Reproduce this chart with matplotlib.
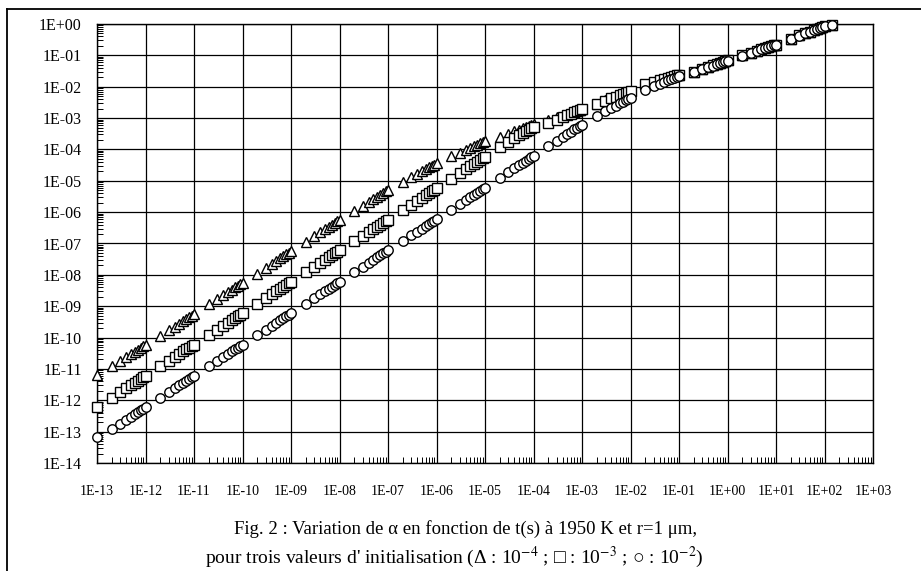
import matplotlib
matplotlib.use('Agg')
import matplotlib.pyplot as plt
from matplotlib.lines import Line2D
from matplotlib.ticker import LogLocator, NullFormatter

plt.rcParams['font.family'] = ['Liberation Serif', 'DejaVu Serif', 'DejaVu Sans']
plt.rcParams['mathtext.fontset'] = 'stix'

# temps : un premier point a 1E-13 puis k*10^n (k = 2..10) pour chaque decade
decades = [-13, -12, -11, -10, -9, -8, -7, -6, -5, -4, -3, -2, -1, 0, 1]
mult = [2, 3, 4, 5, 6, 7, 8, 9, 10]
t_first = 1e-13
t_last = 1.45e2

# alpha, initialisation 1E-4 (triangles)
tri_first = 6.4e-12
tri = [
    [1.2e-11, 1.8e-11, 2.4e-11, 2.9e-11, 3.5e-11, 4.1e-11, 4.7e-11, 5.3e-11, 5.8e-11],
    [1.1e-10, 1.7e-10, 2.2e-10, 2.8e-10, 3.3e-10, 3.9e-10, 4.4e-10, 5.0e-10, 5.5e-10],
    [1.15e-9, 1.7e-9, 2.3e-9, 2.85e-9, 3.4e-9, 4.0e-9, 4.5e-9, 5.1e-9, 5.6e-9],
    [1.1e-8, 1.7e-8, 2.3e-8, 2.8e-8, 3.4e-8, 4.0e-8, 4.5e-8, 5.1e-8, 5.7e-8],
    [1.1e-7, 1.7e-7, 2.3e-7, 2.9e-7, 3.4e-7, 4.0e-7, 4.6e-7, 5.2e-7, 5.8e-7],
    [1.1e-6, 1.62e-6, 2.13e-6, 2.64e-6, 3.15e-6, 3.65e-6, 4.15e-6, 4.6e-6, 5.1e-6],
    [9.2e-6, 1.3e-5, 1.66e-5, 2.0e-5, 2.33e-5, 2.66e-5, 2.98e-5, 3.3e-5, 3.6e-5],
    [6.0e-5, 7.9e-5, 9.6e-5, 1.12e-4, 1.27e-4, 1.41e-4, 1.55e-4, 1.67e-4, 1.8e-4],
    [2.5e-4, 3.2e-4, 3.8e-4, 4.3e-4, 4.8e-4, 5.3e-4, 5.7e-4, 6.1e-4, 6.5e-4],
    [9.0e-4, 1.09e-3, 1.24e-3, 1.38e-3, 1.5e-3, 1.61e-3, 1.71e-3, 1.81e-3, 1.9e-3],
    [2.9e-3, 3.7e-3, 4.4e-3, 5.0e-3, 5.6e-3, 6.1e-3, 6.6e-3, 7.1e-3, 7.5e-3],
    [1.2e-2, 1.43e-2, 1.62e-2, 1.78e-2, 1.93e-2, 2.06e-2, 2.18e-2, 2.29e-2, 2.4e-2],
    [3.0e-2, 3.7e-2, 4.3e-2, 4.8e-2, 5.3e-2, 5.7e-2, 6.15e-2, 6.5e-2, 6.9e-2],
    [0.10, 0.122, 0.140, 0.157, 0.171, 0.185, 0.197, 0.209, 0.22],
    [0.34, 0.43, 0.505, 0.573, 0.635, 0.694, 0.749, 0.80, 0.85],
]
tri_last = 0.93

# alpha, initialisation 1E-3 (carres)
sq_first = 6.3e-13
sq = [
    [1.2e-12, 1.8e-12, 2.4e-12, 3.0e-12, 3.6e-12, 4.2e-12, 4.8e-12, 5.4e-12, 6.0e-12],
    [1.2e-11, 1.8e-11, 2.4e-11, 3.0e-11, 3.6e-11, 4.2e-11, 4.8e-11, 5.4e-11, 6.0e-11],
    [1.2e-10, 1.8e-10, 2.4e-10, 3.0e-10, 3.6e-10, 4.2e-10, 4.8e-10, 5.4e-10, 6.0e-10],
    [1.2e-9, 1.8e-9, 2.4e-9, 3.0e-9, 3.6e-9, 4.2e-9, 4.8e-9, 5.4e-9, 6.0e-9],
    [1.2e-8, 1.8e-8, 2.4e-8, 3.0e-8, 3.6e-8, 4.2e-8, 4.8e-8, 5.4e-8, 6.1e-8],
    [1.2e-7, 1.75e-7, 2.35e-7, 2.9e-7, 3.45e-7, 4.0e-7, 4.5e-7, 5.1e-7, 5.7e-7],
    [1.17e-6, 1.75e-6, 2.33e-6, 2.9e-6, 3.5e-6, 4.1e-6, 4.65e-6, 5.2e-6, 5.8e-6],
    [1.15e-5, 1.73e-5, 2.3e-5, 2.88e-5, 3.45e-5, 4.0e-5, 4.6e-5, 5.15e-5, 5.8e-5],
    [1.2e-4, 1.74e-4, 2.28e-4, 2.8e-4, 3.3e-4, 3.8e-4, 4.3e-4, 4.8e-4, 5.3e-4],
    [6.9e-4, 8.9e-4, 1.07e-3, 1.23e-3, 1.38e-3, 1.52e-3, 1.65e-3, 1.78e-3, 1.9e-3],
    [2.8e-3, 3.56e-3, 4.23e-3, 4.83e-3, 5.38e-3, 5.9e-3, 6.38e-3, 6.85e-3, 7.3e-3],
    [1.2e-2, 1.43e-2, 1.62e-2, 1.78e-2, 1.93e-2, 2.06e-2, 2.18e-2, 2.29e-2, 2.4e-2],
    [3.0e-2, 3.7e-2, 4.3e-2, 4.8e-2, 5.3e-2, 5.7e-2, 6.15e-2, 6.5e-2, 6.9e-2],
    [0.10, 0.122, 0.140, 0.157, 0.171, 0.185, 0.197, 0.209, 0.22],
    [0.34, 0.43, 0.505, 0.573, 0.635, 0.694, 0.749, 0.80, 0.85],
]
sq_last = 0.93

# alpha, initialisation 1E-2 (cercles)
circ_first = 6.6e-14
circ = [
    [1.2e-13, 1.8e-13, 2.4e-13, 3.0e-13, 3.6e-13, 4.2e-13, 4.8e-13, 5.4e-13, 6.0e-13],
    [1.2e-12, 1.8e-12, 2.4e-12, 3.0e-12, 3.6e-12, 4.2e-12, 4.8e-12, 5.4e-12, 6.0e-12],
    [1.2e-11, 1.8e-11, 2.4e-11, 3.0e-11, 3.6e-11, 4.2e-11, 4.8e-11, 5.4e-11, 6.0e-11],
    [1.2e-10, 1.8e-10, 2.4e-10, 3.0e-10, 3.6e-10, 4.2e-10, 4.8e-10, 5.4e-10, 6.0e-10],
    [1.2e-9, 1.8e-9, 2.4e-9, 3.0e-9, 3.6e-9, 4.2e-9, 4.8e-9, 5.4e-9, 6.1e-9],
    [1.2e-8, 1.8e-8, 2.4e-8, 3.0e-8, 3.6e-8, 4.2e-8, 4.8e-8, 5.4e-8, 6.1e-8],
    [1.2e-7, 1.8e-7, 2.4e-7, 3.0e-7, 3.6e-7, 4.2e-7, 4.8e-7, 5.4e-7, 6.0e-7],
    [1.2e-6, 1.8e-6, 2.4e-6, 3.0e-6, 3.6e-6, 4.2e-6, 4.8e-6, 5.4e-6, 6.0e-6],
    [1.25e-5, 1.85e-5, 2.5e-5, 3.1e-5, 3.75e-5, 4.4e-5, 5.0e-5, 5.7e-5, 6.3e-5],
    [1.24e-4, 1.86e-4, 2.48e-4, 3.1e-4, 3.72e-4, 4.34e-4, 4.96e-4, 5.58e-4, 6.2e-4],
    [1.15e-3, 1.63e-3, 2.08e-3, 2.51e-3, 2.93e-3, 3.33e-3, 3.73e-3, 4.12e-3, 4.5e-3],
    [7.9e-3, 1.02e-2, 1.23e-2, 1.42e-2, 1.59e-2, 1.75e-2, 1.91e-2, 2.06e-2, 2.2e-2],
    [2.9e-2, 3.6e-2, 4.2e-2, 4.7e-2, 5.2e-2, 5.6e-2, 6.0e-2, 6.4e-2, 6.8e-2],
    [0.098, 0.12, 0.138, 0.155, 0.169, 0.183, 0.195, 0.207, 0.218],
    [0.335, 0.425, 0.50, 0.57, 0.63, 0.69, 0.745, 0.795, 0.845],
]
circ_last = 0.93

x_labels = ['1E-13', '1E-12', '1E-11', '1E-10', '1E-09', '1E-08', '1E-07', '1E-06',
            '1E-05', '1E-04', '1E-03', '1E-02', '1E-01', '1E+00', '1E+01', '1E+02', '1E+03']
y_labels = ['1E-14', '1E-13', '1E-12', '1E-11', '1E-10', '1E-09', '1E-08', '1E-07',
            '1E-06', '1E-05', '1E-04', '1E-03', '1E-02', '1E-01', '1E+00']


def serie(first, rows, last):
    t = [t_first]
    a = [first]
    for n, row in zip(decades, rows):
        for k, v in zip(mult, row):
            t.append(k * 10.0 ** n)
            a.append(v)
    t.append(t_last)
    a.append(last)
    return t, a


fig = plt.figure(figsize=(9.21, 5.71), dpi=100)
ax = fig.add_axes([97 / 921, 1 - 463 / 571, 776 / 921, 439 / 571])
ax.set_xscale('log')
ax.set_yscale('log')
ax.set_xlim(1e-13, 1e3)
ax.set_ylim(1e-14, 1)

ax.set_xticks([10.0 ** e for e in range(-13, 4)])
ax.set_xticklabels(x_labels)
ax.set_yticks([10.0 ** e for e in range(-14, 1)])
ax.set_yticklabels(y_labels)
ax.xaxis.set_minor_locator(LogLocator(base=10, subs=range(2, 10), numticks=100))
ax.yaxis.set_minor_locator(LogLocator(base=10, subs=range(2, 10), numticks=100))
ax.xaxis.set_minor_formatter(NullFormatter())
ax.yaxis.set_minor_formatter(NullFormatter())

ax.tick_params(which='major', length=0)
ax.tick_params(axis='x', which='major', labelsize=10, pad=16)
ax.tick_params(axis='y', which='major', labelsize=11.5, pad=11)
ax.tick_params(which='minor', direction='in', length=4, width=0.7, color='black')
ax.grid(True, which='major', color='black', linewidth=0.9)
for s in ax.spines.values():
    s.set_linewidth(1.0)

style = dict(linestyle='none', mfc='white', mec='black', mew=1.0, clip_on=False)
t, a = serie(tri_first, tri, tri_last)
ax.plot(t, a, marker='^', ms=7.5, zorder=3, **style)
t, a = serie(sq_first, sq, sq_last)
ax.plot(t, a, marker='s', ms=6.5, zorder=4, **style)
t, a = serie(circ_first, circ, circ_last)
ax.plot(t, a, marker='o', ms=6.8, zorder=5, **style)

fig.text(0.505, 1 - 529 / 571, 'Fig. 2 : Variation de α en fonction de t(s) à 1950 K et r=1 μm,',
         ha='center', va='center', fontsize=13.5)
fig.text(0.493, 1 - 557 / 571,
         "pour trois valeurs d' initialisation (Δ : 10$^{-4}$ ; □ : 10$^{-3}$ ; ○ : 10$^{-2}$)",
         ha='center', va='center', fontsize=14)

# cadre de la figure (gauche et haut)
fig.add_artist(Line2D([7 / 921, 7 / 921], [0, 1 - 9 / 571], color='black', lw=1.3))
fig.add_artist(Line2D([7 / 921, 1], [1 - 9 / 571, 1 - 9 / 571], color='black', lw=1.3))

fig.savefig('out.png', dpi=100)
